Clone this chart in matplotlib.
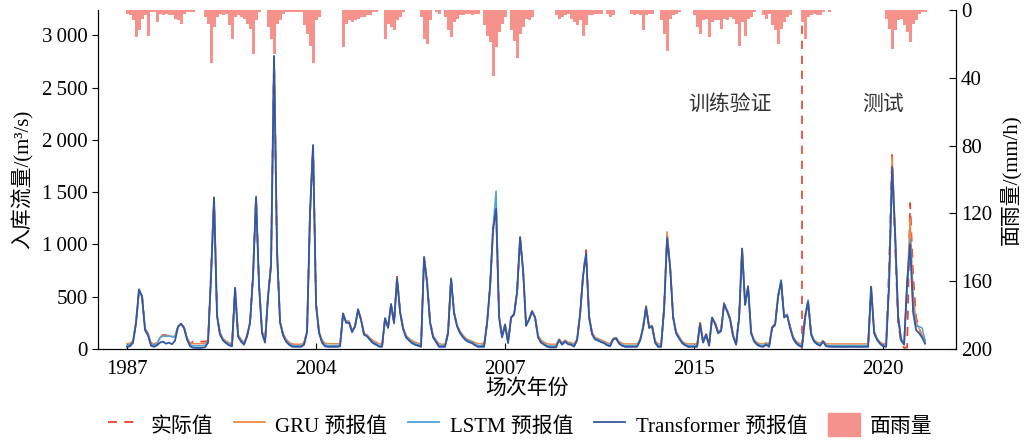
import matplotlib
matplotlib.use('Agg')
import matplotlib.pyplot as plt
from matplotlib.lines import Line2D
from matplotlib.patches import Patch
from matplotlib.ticker import FuncFormatter
import numpy as np

plt.rcParams['font.family'] = ['Liberation Serif', 'Noto Sans CJK SC']
plt.rcParams['font.size'] = 15
plt.rcParams['axes.unicode_minus'] = False

# x axis: event year labels at event positions (time step index)
year_ticks = [0, 63, 126, 189, 252]
year_labels = ['1987', '2004', '2007', '2015', '2020']
split_step = 225  # train/validation | test split

# observed inflow (m3/s)
observed = [
    30, 35, 70, 260, 560, 510, 190, 140, 45, 35,
    45, 110, 135, 130, 125, 120, 110, 220, 240, 205,
    100, 45, 70, 70, 70, 70, 70, 80, 720, 1440,
    320, 140, 90, 65, 45, 35, 580, 130, 75, 50,
    125, 260, 720, 1450, 610, 160, 70, 510, 820, 2790,
    940, 260, 140, 80, 50, 35, 30, 30, 30, 50,
    170, 1300, 1940, 430, 160, 70, 35, 30, 30, 30,
    30, 30, 330, 260, 260, 170, 220, 370, 280, 140,
    125, 90, 60, 45, 30, 25, 290, 210, 420, 250,
    690, 360, 200, 120, 85, 60, 45, 35, 25, 870,
    640, 260, 120, 70, 30, 25, 25, 160, 670, 350,
    220, 160, 115, 85, 70, 60, 40, 30, 60, 30,
    250, 600, 1140, 1350, 310, 115, 235, 60, 300, 335,
    540, 1060, 760, 230, 285, 360, 305, 115, 65, 45,
    30, 20, 20, 20, 90, 45, 75, 50, 45, 30,
    90, 340, 710, 945, 310, 150, 100, 85, 70, 60,
    40, 30, 95, 105, 55, 35, 25, 25, 25, 25,
    25, 85, 210, 410, 210, 220, 65, 25, 25, 390,
    1080, 790, 310, 155, 105, 60, 40, 25, 25, 25,
    25, 250, 65, 140, 35, 310, 250, 160, 180, 440,
    370, 290, 125, 45, 310, 950, 430, 600, 155, 75,
    45, 30, 25, 45, 25, 210, 240, 510, 640, 310,
    330, 210, 105, 60, 35, 25, 300, 460, 140, 75,
    50, 35, 75, 30, 25, 25, 25, 25, 25, 25,
    25, 25, 25, 25, 25, 25, 25, 25, 590, 160,
    90, 50, 30, 30, 800, 1855, 1000, 250, 60, 10,
    15, 1395, 700, 300, 200, 120, 60,
]

gru = [
    50, 55, 80, 250, 555, 510, 200, 150, 60, 50,
    60, 110, 130, 125, 125, 120, 120, 220, 245, 210,
    110, 60, 50, 50, 50, 50, 55, 80, 690, 1430,
    330, 160, 100, 75, 60, 50, 570, 140, 90, 65,
    130, 255, 690, 1440, 620, 175, 85, 500, 790, 2790,
    940, 270, 150, 95, 65, 50, 45, 45, 45, 60,
    170, 1290, 1930, 440, 170, 85, 55, 50, 50, 50,
    50, 50, 330, 270, 265, 180, 220, 370, 285, 150,
    135, 105, 80, 65, 50, 45, 280, 215, 420, 260,
    680, 365, 210, 130, 100, 80, 65, 55, 50, 860,
    640, 265, 130, 85, 50, 45, 45, 160, 660, 350,
    230, 170, 130, 100, 85, 75, 60, 50, 50, 50,
    240, 590, 1130, 1330, 320, 130, 235, 75, 295, 330,
    540, 1050, 760, 240, 285, 360, 310, 130, 85, 65,
    50, 45, 45, 45, 95, 60, 85, 65, 60, 50,
    90, 330, 690, 900, 320, 160, 110, 100, 85, 75,
    60, 50, 100, 110, 70, 55, 48, 48, 48, 48,
    48, 90, 210, 400, 220, 225, 80, 48, 48, 390,
    1120, 800, 320, 170, 120, 75, 55, 48, 48, 48,
    48, 245, 80, 145, 55, 300, 250, 170, 185, 435,
    370, 300, 140, 60, 300, 940, 430, 600, 165, 90,
    60, 50, 48, 60, 48, 200, 235, 500, 640, 320,
    330, 215, 120, 75, 55, 48, 290, 440, 150, 85,
    65, 55, 80, 50, 48, 48, 48, 48, 48, 48,
    48, 48, 48, 48, 48, 48, 48, 48, 580, 170,
    100, 65, 50, 48, 650, 1840, 1150, 330, 100, 60,
    600, 1250, 520, 260, 190, 130, 60,
]

lstm = [
    35, 40, 70, 245, 560, 505, 190, 140, 45, 35,
    50, 105, 125, 120, 125, 115, 115, 215, 240, 205,
    100, 40, 30, 30, 30, 30, 35, 70, 700, 1440,
    320, 150, 90, 65, 45, 35, 575, 130, 80, 55,
    125, 250, 700, 1460, 610, 160, 70, 500, 800, 2800,
    930, 260, 140, 80, 50, 35, 30, 30, 30, 50,
    165, 1300, 1945, 430, 160, 70, 38, 32, 32, 32,
    32, 35, 335, 260, 255, 170, 215, 375, 280, 140,
    125, 95, 65, 50, 33, 32, 290, 210, 425, 250,
    675, 355, 200, 120, 90, 65, 50, 40, 32, 875,
    635, 255, 120, 75, 32, 32, 32, 155, 670, 345,
    220, 160, 120, 90, 75, 65, 45, 32, 32, 32,
    245, 600, 1160, 1510, 310, 120, 230, 65, 300, 330,
    545, 1065, 750, 230, 280, 360, 300, 120, 70, 50,
    33, 28, 28, 28, 88, 50, 75, 55, 50, 33,
    88, 330, 700, 910, 310, 150, 100, 90, 75, 65,
    45, 35, 95, 105, 60, 40, 32, 32, 32, 32,
    32, 85, 205, 400, 210, 215, 70, 32, 32, 385,
    1060, 785, 310, 160, 110, 65, 45, 32, 32, 32,
    32, 240, 70, 140, 40, 300, 245, 160, 175, 430,
    365, 285, 130, 50, 300, 950, 425, 595, 160, 80,
    50, 35, 32, 50, 32, 205, 235, 500, 660, 310,
    325, 205, 110, 65, 40, 32, 320, 470, 150, 80,
    55, 40, 75, 35, 32, 32, 32, 32, 32, 32,
    32, 32, 32, 32, 32, 32, 32, 32, 590, 160,
    95, 55, 32, 32, 620, 1700, 1080, 320, 90, 50,
    620, 1050, 400, 220, 215, 200, 80,
]

transformer = [
    20, 25, 60, 250, 570, 500, 180, 130, 30, 20,
    35, 60, 70, 50, 60, 45, 80, 210, 240, 200,
    90, 25, 12, 10, 10, 10, 15, 60, 700, 1450,
    310, 135, 80, 55, 35, 25, 585, 120, 70, 40,
    120, 250, 700, 1450, 600, 150, 60, 500, 800, 2800,
    930, 250, 130, 70, 40, 22, 20, 20, 20, 40,
    160, 1310, 1950, 420, 150, 60, 25, 20, 20, 20,
    20, 25, 340, 250, 250, 160, 215, 380, 275, 135,
    120, 85, 55, 40, 22, 20, 295, 200, 430, 245,
    675, 350, 190, 110, 80, 55, 40, 30, 20, 880,
    630, 250, 110, 65, 20, 20, 20, 150, 675, 340,
    215, 150, 110, 80, 65, 55, 35, 20, 20, 20,
    245, 600, 1150, 1340, 300, 110, 230, 55, 300, 330,
    545, 1070, 750, 220, 280, 360, 300, 110, 60, 40,
    22, 15, 15, 15, 85, 40, 70, 45, 40, 22,
    85, 330, 700, 915, 300, 140, 90, 80, 65, 55,
    35, 25, 90, 100, 50, 30, 20, 20, 20, 20,
    20, 80, 200, 400, 200, 215, 60, 20, 20, 380,
    1060, 785, 300, 150, 100, 55, 35, 20, 20, 20,
    20, 240, 60, 135, 30, 300, 240, 150, 170, 430,
    360, 280, 120, 40, 300, 960, 420, 595, 150, 70,
    40, 25, 20, 40, 20, 200, 230, 500, 650, 300,
    320, 200, 100, 55, 30, 20, 310, 450, 135, 70,
    45, 30, 70, 25, 22, 20, 20, 20, 20, 20,
    20, 20, 20, 20, 20, 20, 20, 20, 595, 150,
    85, 50, 25, 20, 630, 1740, 1100, 300, 80, 40,
    640, 1000, 350, 180, 150, 110, 50,
]

# areal rainfall (mm/h)
rain = [
    2, 3, 6, 16, 12, 5, 3, 15, 1, 1,
    7, 2, 3, 2, 3, 3, 5, 6, 8, 2,
    1, 1, 1, 0, 0, 0, 4, 8, 31, 10,
    4, 2, 3, 2, 9, 17, 4, 3, 4, 5,
    8, 11, 26, 6, 1, 0, 0, 10, 17, 26,
    8, 6, 2, 1, 1, 1, 1, 1, 1, 9,
    14, 21, 31, 6, 4, 0, 0, 0, 0, 0,
    0, 0, 22, 8, 6, 7, 6, 5, 4, 4,
    3, 3, 1, 1, 0, 0, 17, 8, 10, 12,
    6, 4, 1, 0, 0, 0, 0, 0, 4, 17,
    20, 6, 0, 1, 2, 0, 4, 12, 16, 7,
    5, 3, 3, 2, 2, 3, 2, 2, 0, 9,
    15, 19, 39, 22, 13, 8, 4, 0, 12, 18,
    28, 14, 10, 5, 6, 4, 0, 0, 0, 0,
    0, 0, 0, 3, 5, 4, 3, 2, 5, 7,
    9, 6, 15, 9, 3, 3, 2, 2, 2, 0,
    2, 4, 3, 0, 0, 0, 0, 0, 2, 3,
    2, 3, 12, 3, 2, 2, 0, 0, 6, 14,
    24, 5, 3, 2, 1, 0, 0, 0, 0, 3,
    10, 14, 6, 5, 16, 7, 6, 6, 11, 5,
    6, 4, 5, 8, 21, 7, 15, 5, 4, 1,
    0, 0, 3, 5, 2, 9, 12, 20, 11, 7,
    4, 3, 0, 0, 0, 7, 17, 4, 3, 2,
    3, 3, 1, 0, 1, 0, 0, 0, 0, 0,
    0, 0, 0, 0, 0, 0, 0, 0, 0, 0,
    0, 0, 0, 5, 11, 23, 12, 6, 5, 9,
    13, 19, 8, 6, 2, 1, 1,
]

steps = np.arange(len(observed))

# colours
c_obs = '#E8412F'
c_gru = '#E98A47'
c_lstm = '#4DA3D6'
c_tf = '#3557A3'
c_rain = '#F4928B'

fig = plt.figure(figsize=(10.35, 4.4), dpi=100)
ax1 = fig.add_axes([0.0947, 0.207, 0.829, 0.770])

ax1.plot(steps, observed, color=c_obs, lw=1.3, ls=(0, (5, 4)), zorder=2)
ax1.plot(steps, gru, color=c_gru, lw=1.1, zorder=3)
ax1.plot(steps, lstm, color=c_lstm, lw=1.1, zorder=4)
ax1.plot(steps, transformer, color=c_tf, lw=1.3, zorder=5)

ax1.axvline(split_step, color=c_obs, lw=1.2, ls=(0, (5, 4)), zorder=1)
ax1.text(187, 2330, '训练验证', fontsize=15, color='#333333', va='center', ha='left')
ax1.text(245, 2330, '测试', fontsize=15, color='#333333', va='center', ha='left')

ax1.set_xlim(-9.67, 276.3)
ax1.set_ylim(0, 3240)
ax1.set_xticks(year_ticks)
ax1.set_xticklabels(year_labels)
ax1.set_yticks(np.arange(0, 3001, 500))
ax1.yaxis.set_major_formatter(FuncFormatter(lambda v, _: f'{int(v):,}'.replace(',', '\u2009')))
ax1.tick_params(axis='x', direction='in', length=4, pad=8)
ax1.tick_params(axis='y', direction='out', length=4)
ax1.spines['top'].set_visible(False)
ax1.set_ylabel('入库流量/(m³/s)', labelpad=6)
ax1.set_xlabel('场次年份', labelpad=0)

# rainfall on inverted secondary axis
ax2 = ax1.twinx()
ax2.bar(steps, rain, width=1.0, color=c_rain, linewidth=0, zorder=1)
ax2.set_ylim(200, 0)
ax2.set_yticks(np.arange(0, 201, 40))
ax2.tick_params(axis='y', direction='in', length=5)
ax2.spines['top'].set_visible(False)
ax2.set_ylabel('面雨量/(mm/h)', labelpad=6)

handles = [
    Line2D([], [], color=c_obs, lw=1.3, ls=(0, (5, 4))),
    Line2D([], [], color=c_gru, lw=1.3),
    Line2D([], [], color=c_lstm, lw=1.3),
    Line2D([], [], color=c_tf, lw=1.3),
    Patch(color=c_rain),
]
labels = ['实际值', 'GRU 预报值', 'LSTM 预报值', 'Transformer 预报值', '面雨量']
fig.legend(handles, labels, loc='lower center', bbox_to_anchor=(0.503, -0.035), ncol=5,
           frameon=False, handlelength=1.5, handleheight=1.3, handletextpad=0.5,
           columnspacing=1.0)

fig.savefig('out.png', dpi=100)
